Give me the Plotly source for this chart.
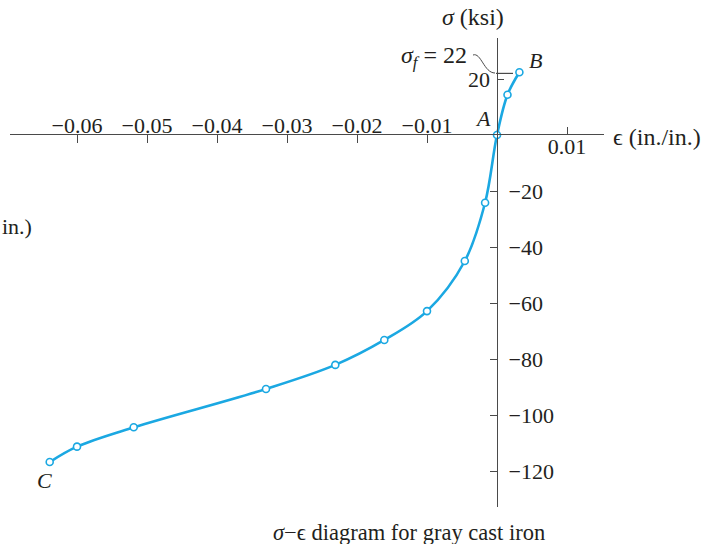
import plotly.graph_objects as go

# ---- data ----
strain = [-0.0639, -0.0600, -0.0519, -0.0330, -0.0231, -0.0161, -0.0100,
          -0.0046, -0.0017, 0.0, 0.0015, 0.0032]
stress = [-116.8, -111.3, -104.4, -90.7, -82.1, -73.2, -62.9,
          -45.0, -24.2, 0.0, 14.4, 22.4]

x_neg_ticks = [-0.06, -0.05, -0.04, -0.03, -0.02, -0.01]
x_neg_labels = ["\u22120.06", "\u22120.05", "\u22120.04", "\u22120.03", "\u22120.02", "\u22120.01"]
x_pos_ticks = [0.01]
x_pos_labels = ["0.01"]
y_neg_ticks = [-20, -40, -60, -80, -100, -120]
y_neg_labels = ["\u221220", "\u221240", "\u221260", "\u221280", "\u2212100", "\u2212120"]
y_pos_ticks = [20]
y_pos_labels = ["20"]
sigma_f = 22

W, H = 702, 544
# pixel geometry of the reference (window pixels)
X0_PX, Y0_PX = 497, 135          # origin
PX_PER_X = 7000.0                 # px per unit strain
PX_PER_Y = 2.8                    # px per ksi
XL, XR = 10, 604                  # x axis line extent (px)
YT, YB = 38, 507                  # y axis line extent (px)

def dx(px):
    return (px - X0_PX) / PX_PER_X

def dy(py):
    return (Y0_PX - py) / PX_PER_Y

def fx(px):
    return px / W

def fy(py):
    return 1 - py / H

TXT = "#231f20"
AX = "#4a4a4a"
BLUE = "#1ba8e2"
FONT = "Liberation Serif"
FS = 22

fig = go.Figure()
fig.add_trace(go.Scatter(
    x=strain, y=stress, mode="lines+markers",
    line=dict(color=BLUE, width=2.6, shape="spline", smoothing=1.0),
    marker=dict(symbol="circle", size=7, color="white",
                line=dict(color=BLUE, width=1.6)),
    hoverinfo="skip", showlegend=False, cliponaxis=False,
))
# invisible helper traces so that every helper axis exists
for xa, ya in [("x2", "y2"), ("x3", "y3"), ("x4", "y4")]:
    fig.add_trace(go.Scatter(x=[0], y=[0], xaxis=xa, yaxis=ya, mode="markers",
                             marker=dict(opacity=0), hoverinfo="skip",
                             showlegend=False))

xdom = [fx(XL), fx(XR)]
ydom = [fy(YB), fy(YT)]
xr = [dx(XL), dx(XR)]
yr = [dy(YB), dy(YT)]

def tf():
    return dict(family=FONT, size=FS, color=TXT)

hidden = dict(visible=False, showgrid=False, zeroline=False, fixedrange=True)

fig.update_layout(
    width=W, height=H,
    margin=dict(l=0, r=0, t=0, b=0, autoexpand=False),
    paper_bgcolor="white", plot_bgcolor="rgba(0,0,0,0)",
    # main strain axis: line at sigma=0, labels above, ticks below
    xaxis=dict(domain=xdom, range=xr, anchor="y4", side="top",
               showgrid=False, zeroline=False, automargin=False,
               showline=True, linecolor=AX, linewidth=1.3,
               tickmode="array", tickvals=x_neg_ticks, ticktext=x_neg_labels,
               ticks="inside", ticklen=8, tickwidth=1, tickcolor=AX,
               ticklabelstandoff=-8, tickfont=tf()),
    # positive strain tick: label below, tick above
    xaxis2=dict(domain=xdom, range=xr, anchor="y3", side="bottom",
                showgrid=False, zeroline=False, automargin=False, showline=False,
                tickmode="array", tickvals=x_pos_ticks, ticktext=x_pos_labels,
                ticks="inside", ticklen=8, tickwidth=1, tickcolor=AX,
                ticklabelstandoff=-4, tickfont=tf()),
    # main stress axis: line at eps=0, labels right, ticks left
    yaxis=dict(domain=ydom, range=yr, anchor="x4", side="right",
               showgrid=False, zeroline=False, automargin=False,
               showline=True, linecolor=AX, linewidth=1.3,
               tickmode="array", tickvals=y_neg_ticks, ticktext=y_neg_labels,
               ticks="inside", ticklen=7, tickwidth=1, tickcolor=AX,
               ticklabelstandoff=6, tickfont=tf()),
    # positive stress tick: label left, tick right
    yaxis2=dict(domain=ydom, range=yr, anchor="x3", side="left",
                showgrid=False, zeroline=False, automargin=False, showline=False,
                tickmode="array", tickvals=y_pos_ticks, ticktext=y_pos_labels,
                ticks="inside", ticklen=7, tickwidth=1, tickcolor=AX,
                ticklabelstandoff=6, tickfont=tf()),
    # helper axes that only place the lines through the origin
    xaxis3=dict(domain=[fx(X0_PX), fx(XR)], anchor="y3", **hidden),
    xaxis4=dict(domain=[fx(XL), fx(X0_PX)], anchor="y4", **hidden),
    yaxis3=dict(domain=[fy(Y0_PX), fy(YT)], anchor="x3", **hidden),
    yaxis4=dict(domain=[fy(YB), fy(Y0_PX)], anchor="x4", **hidden),
)

# sigma_f level line and leader
fig.add_shape(type="line", xref="x", yref="y",
              x0=dx(496), x1=dx(513), y0=sigma_f, y1=sigma_f,
              line=dict(color=AX, width=1.2))
fig.add_shape(type="path", xref="x", yref="y",
              path=(f"M {dx(473)},{dy(55)} C {dx(481)},{dy(52)} "
                    f"{dx(484)},{dy(73)} {dx(495)},{dy(73)}"),
              line=dict(color=AX, width=1))

def ann(text, px, py, xanchor="center", yanchor="middle", size=FS):
    fig.add_annotation(text=text, x=fx(px), y=fy(py), xref="paper",
                       yref="paper", xanchor=xanchor, yanchor=yanchor,
                       showarrow=False, font=dict(family=FONT, size=size, color=TXT))

ann("<i>\u03c3</i> (ksi)", 473, 17, size=24)
ann("\u03f5 (in./in.)", 611, 137, xanchor="left", size=24)
ann("<i>\u03c3</i><sub><i>f</i></sub> = 22", 469, 57, xanchor="right", size=24)
ann("<i>A</i>", 483, 118)
ann("<i>B</i>", 535, 60)
ann("<i>C</i>", 45, 480)
ann("in.)", 0, 226, xanchor="left", size=22)
ann("<i>\u03c3</i>\u2212\u03f5 diagram for gray cast iron", 409, 532, size=22.5)

fig.write_html("out.html", post_script="document.body.style.margin='0px';",
               config={"displayModeBar": False})
